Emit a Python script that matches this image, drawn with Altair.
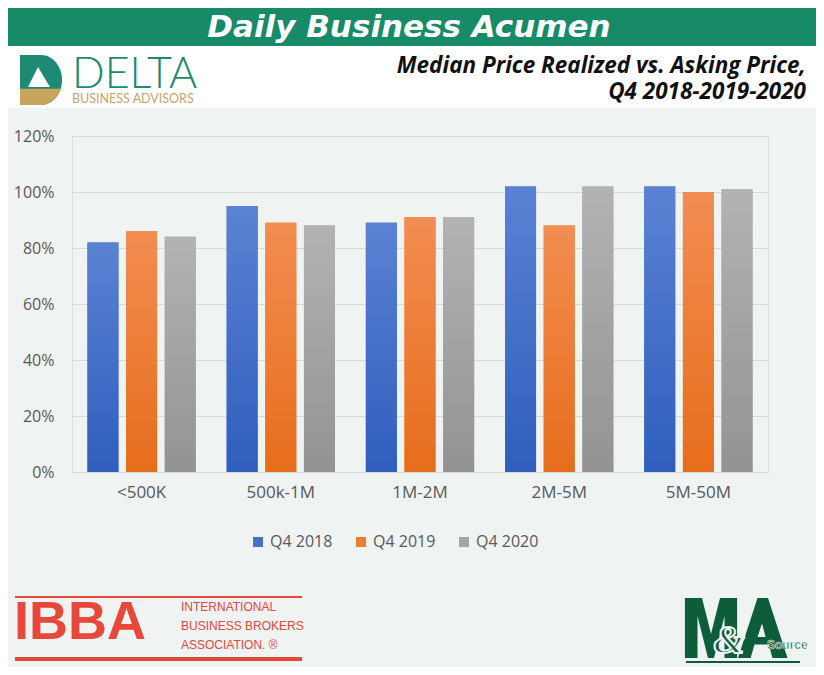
import altair as alt
import pandas as pd

# ---------------- data ----------------
categories = ["<500K", "500k-1M", "1M-2M", "2M-5M", "5M-50M"]
series_names = ["Q4 2018", "Q4 2019", "Q4 2020"]
q4_2018 = [0.82, 0.95, 0.89, 1.02, 1.02]
q4_2019 = [0.86, 0.89, 0.91, 0.88, 1.00]
q4_2020 = [0.84, 0.88, 0.91, 1.02, 1.01]
y_ticks = [0, 0.2, 0.4, 0.6, 0.8, 1.0, 1.2]

rows = []
for name, vals in zip(series_names, [q4_2018, q4_2019, q4_2020]):
    for c, v in zip(categories, vals):
        rows.append({"cat": c, "series": name, "value": v})
df = pd.DataFrame(rows)
one = pd.DataFrame({"k": [0]})

FONT = "Open Sans"
LABEL = "#595959"
BG = "#eff3f2"
base_colors = ["#4472c4", "#ed7d31", "#a5a5a5"]
grads = [("#5b82d3", "#2f5ebd"), ("#f38d52", "#e66d1b"), ("#b3b3b3", "#939393")]

x_enc = alt.X("cat:N", sort=categories,
              scale=alt.Scale(paddingInner=0.222, paddingOuter=0.111),
              axis=alt.Axis(title=None, labelAngle=0, ticks=False, labelPadding=12,
                            labelFontSize=17, labelColor=LABEL, labelFont=FONT,
                            domainColor="#d9d9d9", grid=False))
xo_enc = alt.XOffset("series:N", sort=series_names,
                     scale=alt.Scale(domain=series_names, paddingInner=0.198, paddingOuter=0))
y_enc = alt.Y("value:Q", scale=alt.Scale(domain=[0, 1.2], nice=False),
              axis=alt.Axis(title=None, values=y_ticks, format=".0%", ticks=False,
                            domain=False, labelPadding=18, labelFontSize=16,
                            labelColor=LABEL, labelFont=FONT, gridColor="#d9d9d9"))

base = alt.Chart(df).mark_bar().encode(
    x=x_enc, xOffset=xo_enc, y=y_enc,
    color=alt.Color("series:N", sort=series_names,
                    scale=alt.Scale(domain=series_names, range=base_colors),
                    legend=alt.Legend(title=None, orient="none", legendX=178, legendY=398,
                                      direction="horizontal", symbolType="square",
                                      symbolSize=100, symbolStrokeWidth=0,
                                      labelFontSize=16, labelColor=LABEL, labelFont=FONT,
                                      columnPadding=20, labelOffset=4, padding=0)),
)

overlays = []
for name, (c1, c2) in zip(series_names, grads):
    overlays.append(
        alt.Chart(df).transform_filter(alt.datum.series == name).mark_bar(
            color=alt.Gradient(gradient="linear",
                               stops=[alt.GradientStop(color=c1, offset=0),
                                      alt.GradientStop(color=c2, offset=1)],
                               x1=0, x2=0, y1=0, y2=1)
        ).encode(x=x_enc, xOffset=xo_enc, y=y_enc)
    )


def rect(x1, x2, y1, y2, color):
    return alt.Chart(one).mark_rect(color=color).encode(
        x=alt.value(x1), x2=alt.value(x2), y=alt.value(y1), y2=alt.value(y2))


def text(t, x, y, **kw):
    return alt.Chart(one).mark_text(text=t, **kw).encode(x=alt.value(x), y=alt.value(y))


def shape(path, x, y, size, color):
    return alt.Chart(one).mark_point(shape=path, size=size, filled=True, color=color,
                                     opacity=1, strokeWidth=0).encode(
        x=alt.value(x), y=alt.value(y))


# header
banner = rect(-64, 744, -128, -90, "#178a68")
white = rect(-64, 744, -90, -28, "#ffffff")
header_title = text("Daily Business Acumen", 337, -99, font="DejaVu Sans", fontSize=31,
                    fontWeight="bold", fontStyle="italic", color="white",
                    align="center", baseline="alphabetic")
sub1 = text("Median Price Realized vs. Asking Price,", 734, -63, font="Open Sans",
            fontSize=22.5, fontWeight="bold", fontStyle="italic", color="#111111",
            align="right", baseline="alphabetic")
sub2 = text("Q4 2018-2019-2020", 734, -37, font="Open Sans", fontSize=22.5,
            fontWeight="bold", fontStyle="italic", color="#111111",
            align="right", baseline="alphabetic")

# Delta logo
D_path = "M -0.84 -1 L 0 -1 A 0.84 1 0 0 1 0 1 L -0.84 1 Z"
gold_path = "M -0.84 0.35 L 0.787 0.35 A 0.84 1 0 0 1 0 1 L -0.84 1 Z"
tri_path = "M -0.12 -0.52 L 0.36 0.28 L -0.52 0.28 Z"
d_icon = shape(D_path, -31, -56, 2500, "#1d8a74")
d_gold = shape(gold_path, -31, -56, 2500, "#c9a45c")
d_tri = shape(tri_path, -31, -56, 2500, "#ffffff")
delta_txt = text("DELTA", 0, -48, font="Lato", fontSize=43, fontWeight=300,
                 color="#1d8a74", align="left", baseline="alphabetic")
delta_sub = text("BUSINESS ADVISORS", 0, -33, font="Lato", fontSize=12.5,
                 color="#c8a46a", align="left", baseline="alphabetic")

# IBBA logo
RED = "#e8483a"
ibba_top = rect(-57, 230, 460, 462, RED)
ibba_bot = rect(-57, 230, 521, 525, RED)
ibba_txt = text("IBBA", -58, 503, font="Liberation Sans", fontSize=54, fontWeight="bold",
                color=RED, align="left", baseline="alphabetic")
ibba_l1 = text("INTERNATIONAL", 109, 475, font="Liberation Sans",
               fontSize=12, color=RED, align="left", baseline="alphabetic")
ibba_l2 = text("BUSINESS BROKERS", 109, 494, font="Liberation Sans",
               fontSize=12, color=RED, align="left", baseline="alphabetic")
ibba_l3 = text("ASSOCIATION. ®", 109, 513, font="Liberation Sans",
               fontSize=12, color=RED, align="left", baseline="alphabetic")

# M&A Source logo
GREEN = "#0d5c3a"
M_path = ("M -0.87 1 L -0.87 -1 L -0.3 -1 L 0 0.2 L 0.3 -1 L 0.87 -1 L 0.87 1 "
          "L 0.45 1 L 0.45 -0.4 L 0.1 1 L -0.1 1 L -0.45 -0.4 L -0.45 1 Z")
A_path = ("M -0.8 1 L -0.15 -1 L 0.2 -1 L 0.85 1 L 0.35 1 L 0.22 0.55 L -0.25 0.55 "
          "L -0.38 1 Z M -0.15 0.3 L 0.12 0.3 L 0 -0.15 Z")
m_shape = shape(M_path, 639, 492, 3600, GREEN)
a_shape = shape(A_path, 690, 492, 3600, GREEN)
amp = alt.Chart(one).mark_text(text="&", font="Liberation Serif", fontSize=40,
                               fontWeight="bold", fontStyle="italic", color=GREEN,
                               stroke=BG, strokeWidth=2, align="center",
                               baseline="middle").encode(x=alt.value(657), y=alt.value(505))
source = alt.Chart(one).mark_text(text="Source", font="Liberation Sans",
                                  fontSize=12, fontWeight="bold", color=GREEN, stroke=BG,
                                  strokeWidth=0.6, align="left",
                                  baseline="alphabetic").encode(x=alt.value(695), y=alt.value(513))
ma_line = rect(614, 728, 525, 527, GREEN)

chart = alt.layer(
    banner, white, base, *overlays,
    header_title, sub1, sub2, d_icon, d_gold, d_tri, delta_txt, delta_sub,
    ibba_top, ibba_bot, ibba_txt, ibba_l1, ibba_l2, ibba_l3,
    m_shape, a_shape, amp, source, ma_line,
).properties(
    width=696, height=336,
    padding={"left": 64, "top": 128, "right": 48, "bottom": 195},
    autosize=alt.AutoSizeParams(type="none"),
).configure_view(stroke=None).configure(background=BG)

chart.save("out.html", embed_options={"renderer": "svg", "actions": False})
